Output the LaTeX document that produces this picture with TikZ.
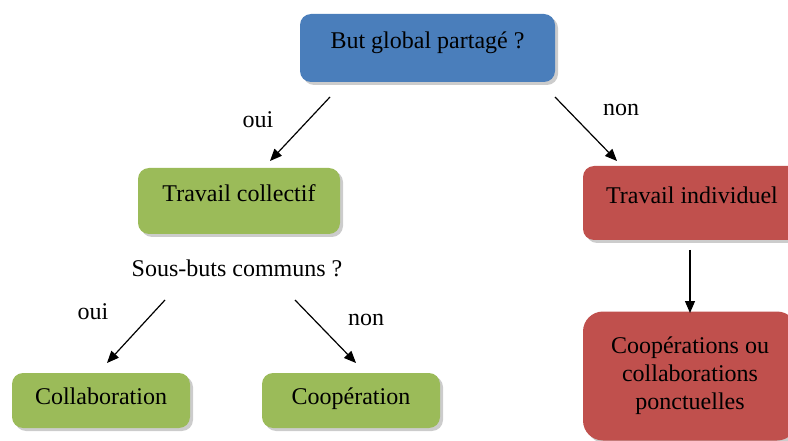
\documentclass[tikz,border=0pt]{standalone}
\usepackage{fontspec}
\setmainfont{Liberation Serif}
\usetikzlibrary{shadows,arrows.meta}
\definecolor{bleu}{HTML}{4A7EBB}
\definecolor{vert}{HTML}{9BBB59}
\definecolor{rouge}{HTML}{C0504D}
\tikzset{bx/.append style={rectangle, rounded corners=11pt, drop shadow={shadow xshift=3pt,shadow yshift=-3pt,opacity=0.4}, font=\fontsize{24}{28}\selectfont}}
\tikzset{tx/.append style={text height=16pt, text depth=14pt}}
\tikzset{ts/.append style={text height=16pt, text depth=8pt}}
\tikzset{lb/.append style={font=\fontsize{24}{28}\selectfont, inner sep=0pt}}
\tikzset{ar/.append style={-{Triangle[length=12pt,width=10pt]}, line width=1.2pt}}

\begin{document}
\begin{tikzpicture}[x=1pt,y=-1pt]
                \clip (0,0) rectangle (788,441);
                % boxes
                \node[bx,tx,fill=bleu,minimum width=255pt,minimum height=68pt] (but) at (427.5,48) {But global partagé ?};
                \node[bx,tx,fill=vert,minimum width=202pt,minimum height=66pt] (tc) at (239,201) {Travail collectif};
                \node[bx,tx,fill=rouge,minimum width=218pt,minimum height=74pt] (ti) at (692,203) {Travail individuel};
                \node[bx,ts,fill=vert,minimum width=178pt,minimum height=55pt] (col) at (101,400.5) {Collaboration};
                \node[bx,ts,fill=vert,minimum width=178pt,minimum height=55pt] (coop) at (351,400.5) {Coopération};
                \node[bx,fill=rouge,rounded corners=20pt,align=center,minimum width=214pt,minimum height=129pt] (pct) at (690,376) {Coopérations ou\\collaborations\\ponctuelles};
                % labels
                \node[lb] (q2) at (237,268) {Sous-buts communs ?};
                \node[lb] (o1) at (258,120) {oui};
                \node[lb] (n1) at (621,110) {non};
                \node[lb] (o2) at (93,312) {oui};
                \node[lb] (n2) at (366,320) {non};
                % arrows
                \coordinate (a1) at (330,97);  \coordinate (b1) at (270,161);
                \coordinate (a2) at (555,97);  \coordinate (b2) at (617,161);
                \coordinate (a3) at (165,300); \coordinate (b3) at (107,363);
                \coordinate (a4) at (295,300); \coordinate (b4) at (356,363);
                \coordinate (a5) at (690,250); \coordinate (b5) at (690,313);
                \draw[ar] (a1) -- (b1);
                \draw[ar] (a2) -- (b2);
                \draw[ar] (a3) -- (b3);
                \draw[ar] (a4) -- (b4);
                \draw[ar] (a5) -- (b5);
            \end{tikzpicture}
\end{document}
